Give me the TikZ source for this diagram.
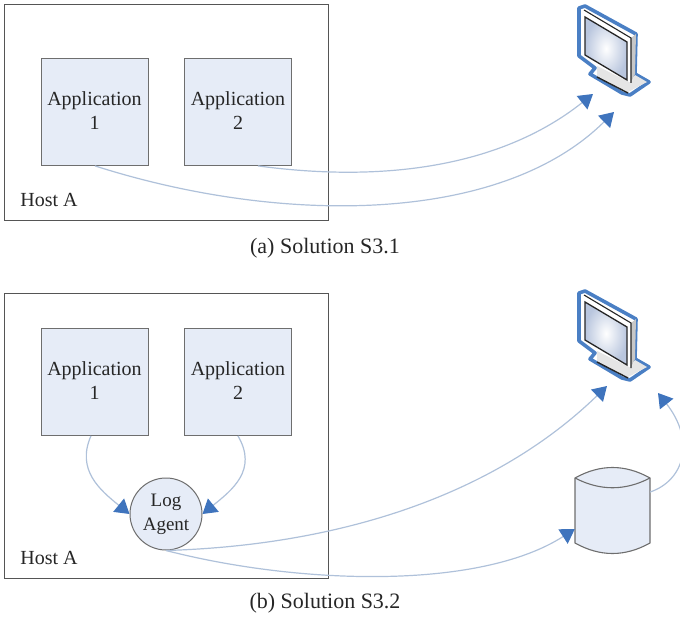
\documentclass[tikz,border=0pt]{standalone}
\usepackage{fontspec}
\setmainfont{Liberation Serif}
\usetikzlibrary{arrows.meta,calc}
\definecolor{boxfill}{HTML}{E6ECF7}
\definecolor{boxline}{HTML}{6E6E6E}
\definecolor{hostline}{HTML}{555555}
\definecolor{conn}{HTML}{AFC1DA}
\definecolor{tipblue}{HTML}{3F74BD}
\definecolor{monblue}{HTML}{4A7FC4}
\definecolor{screenedge}{HTML}{B9C6DE}
\newcommand{\drawmonitor}[1]{%
  \begin{scope}[yshift=#1]
    \draw[monblue,line width=3.6pt,line join=round,fill=white] (579,8) -- (585,6) -- (636,34) -- (635,74) -- (649,82) -- (630,95) -- (622,93) -- (590,74) -- (595,68) -- (579,56) -- cycle;
    \fill[black!22] (631,38) -- (636,34) -- (635,74) -- (631,83) -- cycle;
    \fill[black!10] (597,76) -- (628,92) -- (647,82) -- (635,75) -- (631,83) -- (597,66) -- cycle;
    \shade[inner color=white,outer color=screenedge,draw=black!85,line width=1.3pt] (585,17) -- (627,42) -- (627,80) -- (585,55) -- cycle;
    \draw[black!85,line width=1.1pt] (584,10) -- (631,38) -- (631,83);
    \draw[black!85,line width=1.4pt] (597,77) -- (628,93);
  \end{scope}}
\tikzset{
  host/.style={draw=hostline,line width=0.9pt,fill=white,minimum width=324pt,anchor=north west,inner sep=0pt},
  appbox/.style={draw=boxline,line width=0.9pt,fill=boxfill,minimum width=107pt,minimum height=107pt,inner sep=0pt,anchor=north west},
  applabel/.style={font=\fontsize{20}{24}\selectfont,align=center,text=black!85},
  agent/.style={circle,draw=boxline,line width=1pt,fill=boxfill,minimum size=72pt,inner sep=0pt,align=center,text=black!85,font=\fontsize{19}{24}\selectfont},
  plain/.style={font=\fontsize{20}{22}\selectfont,text=black!85,inner sep=0pt},
  caption/.style={font=\fontsize{22}{24}\selectfont,text=black!85,inner sep=0pt},
  link/.style={draw=conn,line width=1.2pt,-{Triangle[length=14pt,width=17pt,color=tipblue]}},
  hidden/.style={inner sep=0pt,minimum size=0pt}
}
\begin{document}
\begin{tikzpicture}[x=1pt,y=-1pt]
\useasboundingbox (0,0) rectangle (680,620);
\clip (0,0) rectangle (680,620);
% hosts
\node[host,minimum height=216pt] (hostA) at (4,4) {};
\node[host,minimum height=285pt] (hostB) at (4,293) {};
\node[plain] (hostAl) at (49,200) {Host A};
\node[plain] (hostBl) at (49,558) {Host A};
% panel a
\node[appbox] (a1) at (41,58) {};
\node[appbox] (a2) at (184,58) {};
\node[applabel] (a1l) at (94.5,111) {Application\\1};
\node[applabel] (a2l) at (238,111) {Application\\2};
\drawmonitor{0pt}
\coordinate (tipA1) at (593,94);
\coordinate (tipA2) at (614,112);
\draw[link] ($(a2.south)+(20,0)$) .. controls (400,185) and (510,160) .. (tipA1);
\draw[link] (a1.south) .. controls (280,225) and (500,225) .. (tipA2);
\node[caption] (capa) at (325,248) {(a) Solution S3.1};
% panel b
\node[appbox] (b1) at (41,328) {};
\node[appbox] (b2) at (184,328) {};
\node[applabel] (b1l) at (94.5,381) {Application\\1};
\node[applabel] (b2l) at (238,381) {Application\\2};
\node[agent] (log) at (166,514) {Log\\Agent};
\drawmonitor{-285pt}
\coordinate (tipB1) at (607,386);
\coordinate (tipB2) at (658,393);
% database
\node[hidden,minimum width=75pt,minimum height=84pt] (db) at (612.5,511) {};
\draw[boxline,line width=1.1pt,fill=boxfill] (575,478) .. controls (600,464) and (625,464) .. (650,478) -- (650,543) .. controls (625,557) and (600,557) .. (575,543) -- cycle;
\draw[boxline,line width=1.1pt] (575,478) .. controls (600,491) and (625,491) .. (650,478);
% connectors
\draw[link] ($(b1.south)+(-4,0)$) .. controls (76,470) and (100,490) .. (log.west);
\draw[link] (b2.south) .. controls (258,470) and (232,490) .. (log.east);
\draw[link] (log.south) .. controls (350,545) and (500,490) .. (tipB1);
\draw[link] (log.south) .. controls (300,585) and (480,590) .. ($(db.west)+(0,18)$);
\draw[link] ($(db.east)+(0,-19)$) .. controls (685,480) and (695,440) .. (tipB2);
\node[caption] (capb) at (325,603) {(b) Solution S3.2};
\end{tikzpicture}
\end{document}
